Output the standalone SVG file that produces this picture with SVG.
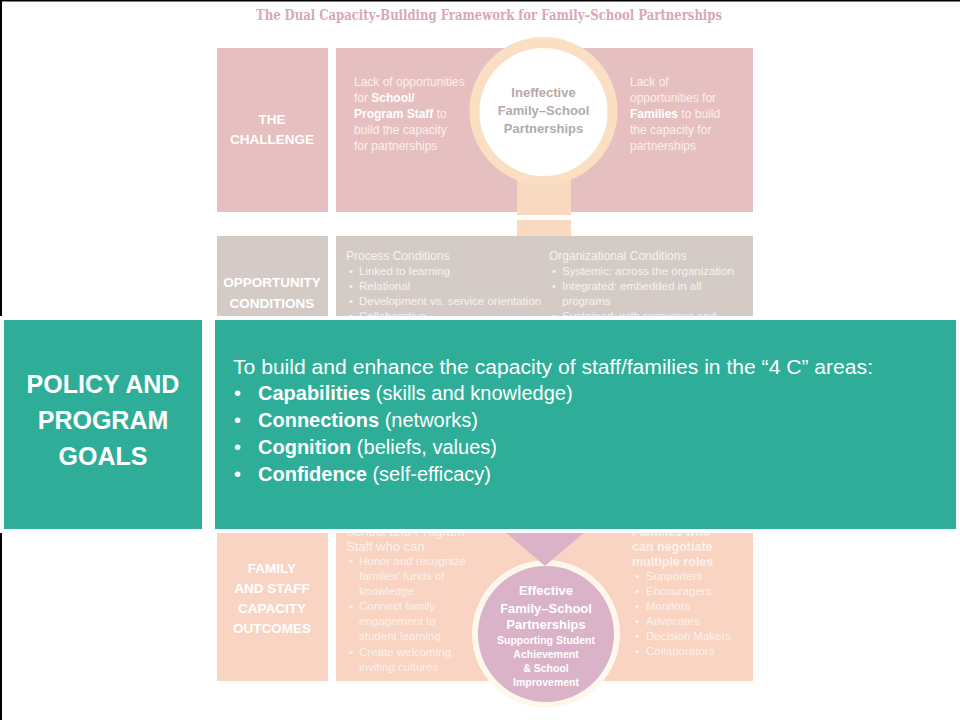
<svg xmlns="http://www.w3.org/2000/svg" width="960" height="720" viewBox="0 0 960 720">
<defs>
<style>
text{font-family:"Liberation Sans",Arial,sans-serif;}
.title{font-family:"DejaVu Serif","Liberation Serif",serif;font-weight:bold;font-size:14px;fill:#d9a7bb;}
.lab{font-weight:bold;font-size:13.5px;fill:#ffffff;text-anchor:middle;}
.ct{font-size:12px;fill:#fcefee;}
.ctb{font-weight:bold;fill:#ffffff;}
.inef{font-weight:bold;font-size:13px;fill:#b3aba9;text-anchor:middle;}
.oh{font-size:12px;fill:#f6f2f0;}
.ot{font-size:11.5px;fill:#f6f2f0;}
.ft{font-size:11.5px;fill:#fdf1ea;}
.fh{font-size:13px;fill:#fdf1ea;}
.fhb{font-size:12.5px;font-weight:bold;fill:#fdf1ea;}
.eff{font-weight:bold;font-size:13px;fill:#ffffff;text-anchor:middle;}
.effs{font-weight:bold;font-size:10.5px;fill:#ffffff;text-anchor:middle;}
.teal{fill:#2eae98;}
.halo{fill:#ffffff;}
.pg{font-weight:bold;font-size:25px;fill:#ffffff;text-anchor:middle;}
.gt{font-size:20px;fill:#ffffff;}
.gtb{font-weight:bold;}
</style>
</defs>
<rect x="0" y="0" width="960" height="720" fill="#ffffff"/>
<rect x="0" y="0" width="960" height="1.5" fill="#000000"/>
<rect x="0" y="0" width="2" height="720" fill="#000000"/>

<g id="title">
<text class="title" x="489" y="20" text-anchor="middle" textLength="466" lengthAdjust="spacingAndGlyphs">The Dual Capacity-Building Framework for Family–School Partnerships</text>
</g>

<g id="challenge">
<rect x="217" y="48" width="111" height="164" fill="#e6c0c0"/>
<text class="lab" x="272" y="124">THE</text>
<text class="lab" x="272" y="144">CHALLENGE</text>
<rect x="336" y="48" width="417" height="164" fill="#e6c0c0"/>
<text class="ct" x="354" y="86">Lack of opportunities</text>
<text class="ct" x="354" y="102">for <tspan class="ctb">School/</tspan></text>
<text class="ct" x="354" y="118"><tspan class="ctb">Program Staff</tspan> to</text>
<text class="ct" x="354" y="134">build the capacity</text>
<text class="ct" x="354" y="150">for partnerships</text>
<text class="ct" x="630" y="86">Lack of</text>
<text class="ct" x="630" y="102">opportunities for</text>
<text class="ct" x="630" y="118"><tspan class="ctb">Families</tspan> to build</text>
<text class="ct" x="630" y="134">the capacity for</text>
<text class="ct" x="630" y="150">partnerships</text>
</g>

<g id="connectors">
<rect x="517" y="150" width="54" height="65" fill="#f9dac1"/>
<rect x="517" y="220" width="54" height="16" fill="#f9dac1"/>
</g>

<g id="ineffective">
<circle cx="543.5" cy="111" r="74" fill="#fbdfc3"/>
<circle cx="543.5" cy="112" r="64" fill="#ffffff"/>
<text class="inef" x="543.5" y="97">Ineffective</text>
<text class="inef" x="543.5" y="115">Family–School</text>
<text class="inef" x="543.5" y="133">Partnerships</text>
</g>

<g id="opportunity">
<rect x="217" y="236" width="111" height="90" fill="#d4cbc6"/>
<text class="lab" x="272" y="287">OPPORTUNITY</text>
<text class="lab" x="272" y="308">CONDITIONS</text>
<rect x="336" y="236" width="417" height="90" fill="#d4cbc6"/>
<text class="oh" x="346" y="260">Process Conditions</text>
<text class="ot" x="349" y="275">•</text><text class="ot" x="359" y="275">Linked to learning</text>
<text class="ot" x="349" y="290">•</text><text class="ot" x="359" y="290">Relational</text>
<text class="ot" x="349" y="305">•</text><text class="ot" x="359" y="305">Development vs. service orientation</text>
<text class="ot" x="349" y="320">•</text><text class="ot" x="359" y="320">Collaborative</text>
<text class="oh" x="549" y="260">Organizational Conditions</text>
<text class="ot" x="552" y="275">•</text><text class="ot" x="562" y="275">Systemic: across the organization</text>
<text class="ot" x="552" y="290">•</text><text class="ot" x="562" y="290">Integrated: embedded in all</text>
<text class="ot" x="562" y="305">programs</text>
<text class="ot" x="552" y="320">•</text><text class="ot" x="562" y="320">Sustained: with resources and</text>
</g>

<g id="outcomes">
<rect x="217" y="500" width="111" height="181" fill="#f9d4c3"/>
<text class="lab" x="272" y="573">FAMILY</text>
<text class="lab" x="272" y="593">AND STAFF</text>
<text class="lab" x="272" y="613">CAPACITY</text>
<text class="lab" x="272" y="633">OUTCOMES</text>
<rect x="336" y="500" width="417" height="181" fill="#f9d4c3"/>
<text class="fh" x="346" y="536">School and Program</text>
<text class="fh" x="346" y="551">Staff who can</text>
<text class="ft" x="349" y="565">•</text><text class="ft" x="359" y="565">Honor and recognize</text>
<text class="ft" x="359" y="580">families’ funds of</text>
<text class="ft" x="359" y="595">knowledge</text>
<text class="ft" x="349" y="610">•</text><text class="ft" x="359" y="610">Connect family</text>
<text class="ft" x="359" y="625">engagement to</text>
<text class="ft" x="359" y="640">student learning</text>
<text class="ft" x="349" y="656">•</text><text class="ft" x="359" y="656">Create welcoming,</text>
<text class="ft" x="359" y="671">inviting cultures</text>
<text class="fhb" x="632" y="536">Families who</text>
<text class="fhb" x="632" y="551">can negotiate</text>
<text class="fhb" x="632" y="566">multiple roles</text>
<text class="ft" x="635" y="580">•</text><text class="ft" x="646" y="580">Supporters</text>
<text class="ft" x="635" y="595">•</text><text class="ft" x="646" y="595">Encouragers</text>
<text class="ft" x="635" y="610">•</text><text class="ft" x="646" y="610">Monitors</text>
<text class="ft" x="635" y="625">•</text><text class="ft" x="646" y="625">Advocates</text>
<text class="ft" x="635" y="640">•</text><text class="ft" x="646" y="640">Decision Makers</text>
<text class="ft" x="635" y="655">•</text><text class="ft" x="646" y="655">Collaborators</text>
</g>

<g id="effective">
<circle cx="546" cy="634" r="74" fill="#fdf7ec"/>
<polygon points="497,525 593,525 545,566" fill="#dbb3c9"/>
<circle cx="546" cy="634" r="68" fill="#dbb3c9"/>
<text class="eff" x="546" y="595">Effective</text>
<text class="eff" x="546" y="613">Family–School</text>
<text class="eff" x="546" y="629">Partnerships</text>
<text class="effs" x="546" y="644">Supporting Student</text>
<text class="effs" x="546" y="658">Achievement</text>
<text class="effs" x="546" y="672">&amp; School</text>
<text class="effs" x="546" y="686">Improvement</text>
</g>

<g id="goals-label">
<rect class="halo" x="0" y="316" width="206" height="217"/>
<rect class="teal" x="4" y="320" width="198" height="209"/>
<text class="pg" x="103" y="393">POLICY AND</text>
<text class="pg" x="103" y="429">PROGRAM</text>
<text class="pg" x="103" y="465">GOALS</text>
</g>

<g id="goals">
<rect class="halo" x="211" y="316" width="749" height="217"/>
<rect class="teal" x="215" y="320" width="741" height="209"/>
<text class="gt" x="233" y="374" font-size="21" textLength="640" lengthAdjust="spacingAndGlyphs">To build and enhance the capacity of staff/families in the “4 C” areas:</text>
<text class="gt" x="234" y="400">•</text><text class="gt" x="258" y="400"><tspan class="gtb">Capabilities</tspan> (skills and knowledge)</text>
<text class="gt" x="234" y="427">•</text><text class="gt" x="258" y="427"><tspan class="gtb">Connections</tspan> (networks)</text>
<text class="gt" x="234" y="454">•</text><text class="gt" x="258" y="454"><tspan class="gtb">Cognition</tspan> (beliefs, values)</text>
<text class="gt" x="234" y="481">•</text><text class="gt" x="258" y="481"><tspan class="gtb">Confidence</tspan> (self-efficacy)</text>
</g>
</svg>
